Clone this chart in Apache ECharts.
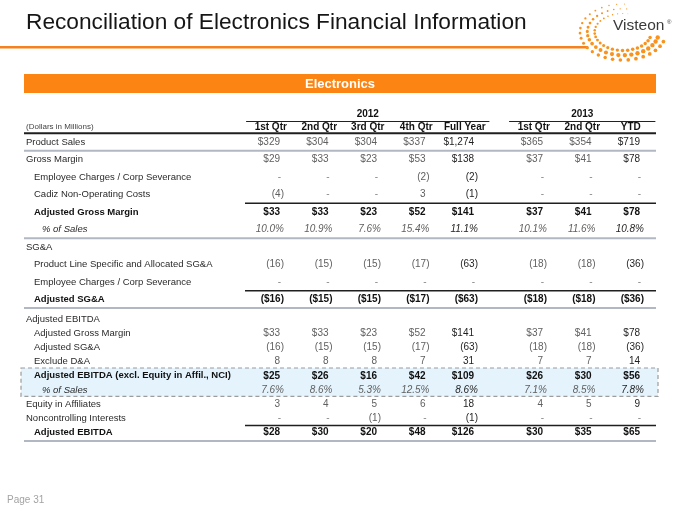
<!DOCTYPE html>
<html>
<head>
<meta charset="utf-8">
<script src="https://cdn.jsdelivr.net/npm/echarts@6/dist/echarts.min.js"></script>
<style>html,body{margin:0;padding:0;background:#fff}#c{width:680px;height:510px}</style>
</head>
<body>
<div id="c"></div>
<script>
// ---------- DATA ----------
const columns2012 = ['1st Qtr', '2nd Qtr', '3rd Qtr', '4th Qtr', 'Full Year'];
const columns2013 = ['1st Qtr', '2nd Qtr', 'YTD'];
const yearLabels2012 = ['', '', '2012', '', ''];
const yearLabels2013 = ['', '2013', ''];
const unitsNote = '(Dollars in Millions)';

// values: Q1'12, Q2'12, Q3'12, Q4'12, FY'12, Q1'13, Q2'13, YTD'13  (null = blank, 0 = "-")
const productSales     = [329, 304, 304, 337, 1274, 365, 354, 719];
const grossMargin      = [29, 33, 23, 53, 138, 37, 41, 78];
const empChargesGM     = [0, 0, 0, -2, -2, 0, 0, 0];
const cadizCosts       = [-4, 0, 0, 3, -1, 0, 0, 0];
const adjGrossMargin   = [33, 33, 23, 52, 141, 37, 41, 78];
const grossMarginPct   = [10.0, 10.9, 7.6, 15.4, 11.1, 10.1, 11.6, 10.8];
const productLineSGA   = [-16, -15, -15, -17, -63, -18, -18, -36];
const empChargesSGA    = [0, 0, 0, 0, 0, 0, 0, 0];
const adjSGA           = [-16, -15, -15, -17, -63, -18, -18, -36];
const ebitdaGrossMargin= [33, 33, 23, 52, 141, 37, 41, 78];
const ebitdaSGA        = [-16, -15, -15, -17, -63, -18, -18, -36];
const excludeDA        = [8, 8, 8, 7, 31, 7, 7, 14];
const adjEbitdaExcl    = [25, 26, 16, 42, 109, 26, 30, 56];
const ebitdaPct        = [7.6, 8.6, 5.3, 12.5, 8.6, 7.1, 8.5, 7.8];
const equityAffiliates = [3, 4, 5, 6, 18, 4, 5, 9];
const noncontrolling   = [0, 0, -1, 0, -1, 0, 0, 0];
const adjEbitda        = [28, 30, 20, 48, 126, 30, 35, 65];
const blankRow         = [null, null, null, null, null, null, null, null];

// [label, values, format, style, indent]
const topRows = [
  ['Product Sales', productSales, '$', 'n', 0],
  ['Gross Margin', grossMargin, '$', 'n', 0],
  ['Employee Charges / Corp Severance', empChargesGM, 'n', 'n', 1],
  ['Cadiz Non-Operating Costs', cadizCosts, 'n', 'n', 1],
  ['Adjusted Gross Margin', adjGrossMargin, '$', 'b', 1],
  ['% of Sales', grossMarginPct, '%', 'i', 2],
  ['SG&A', blankRow, 'n', 'n', 0],
  ['Product Line Specific and Allocated SG&A', productLineSGA, 'n', 'n', 1],
  ['Employee Charges / Corp Severance', empChargesSGA, 'n', 'n', 1],
  ['Adjusted SG&A', adjSGA, '$', 'b', 1]
];
const bottomRows = [
  ['Adjusted EBITDA', blankRow, 'n', 'n', 0],
  ['Adjusted Gross Margin', ebitdaGrossMargin, '$', 'n', 1],
  ['Adjusted SG&A', ebitdaSGA, 'n', 'n', 1],
  ['Exclude D&A', excludeDA, 'n', 'n', 1],
  ['Adjusted EBITDA (excl. Equity in Affil., NCI)', adjEbitdaExcl, '$', 'b', 1],
  ['% of Sales', ebitdaPct, '%', 'i', 2],
  ['Equity in Affiliates', equityAffiliates, 'n', 'n', 0],
  ['Noncontrolling Interests', noncontrolling, 'n', 'n', 0],
  ['Adjusted EBITDA', adjEbitda, '$', 'b', 1]
];

// ---------- LAYOUT ----------
const FONT = 'Liberation Sans, Arial, Helvetica, sans-serif';
const TABLE_L = 24, TABLE_W = 632;
const G2012_L = 246.5, G2012_W = 242.5;
const G2013_L = 509.5, G2013_W = 145.5;
const TOP_FIRST = 142, TOP_STEP = 17.5;
const BOT_FIRST = 319, BOT_STEP = 14.2;
const INDENTS = [2, 10, 18];
const NUM_START = 221;

function fmtVal(v, f) {
  if (v === null) return '';
  if (v === 0) return '-';
  if (f === '%') return v.toFixed(1) + '%';
  const a = Math.abs(v).toLocaleString('en-US');
  const s = (f === '$' ? '$' : '') + a;
  return v < 0 ? '(' + s + ')' : s;
}

function sectionGrid(first, step, n) {
  return { top: first - step / 2, height: step * n };
}
const topG = sectionGrid(TOP_FIRST, TOP_STEP, topRows.length);
const botG = sectionGrid(BOT_FIRST, BOT_STEP, bottomRows.length);

const grids = [
  { left: TABLE_L, width: TABLE_W, top: topG.top, height: topG.height },
  { left: G2012_L, width: G2012_W, top: topG.top, height: topG.height },
  { left: G2013_L, width: G2013_W, top: topG.top, height: topG.height },
  { left: TABLE_L, width: TABLE_W, top: botG.top, height: botG.height },
  { left: G2012_L, width: G2012_W, top: botG.top, height: botG.height },
  { left: G2013_L, width: G2013_W, top: botG.top, height: botG.height }
];

const hdrLabel = { margin: 1, fontFamily: FONT, fontSize: 10, fontWeight: 'bold', color: '#111', interval: 0 };
const hidden = { show: false };
const xAxes = [
  { gridIndex: 0, type: 'value', min: 0, max: TABLE_W, show: false },
  { gridIndex: 1, type: 'category', data: columns2012, position: 'top', axisLine: hidden, axisTick: hidden, axisLabel: hdrLabel, splitLine: hidden },
  { gridIndex: 1, type: 'category', data: yearLabels2012, position: 'top', offset: 12,
    axisLine: { show: true, lineStyle: { color: '#222', width: 1 } }, axisTick: hidden, axisLabel: Object.assign({}, hdrLabel, { margin: 2 }) },
  { gridIndex: 2, type: 'category', data: columns2013, position: 'top', axisLine: hidden, axisTick: hidden, axisLabel: hdrLabel },
  { gridIndex: 2, type: 'category', data: yearLabels2013, position: 'top', offset: 12,
    axisLine: { show: true, lineStyle: { color: '#222', width: 1 } }, axisTick: hidden, axisLabel: Object.assign({}, hdrLabel, { margin: 2 }) },
  { gridIndex: 3, type: 'value', min: 0, max: TABLE_W, show: false },
  { gridIndex: 4, type: 'category', data: columns2012, show: false },
  { gridIndex: 5, type: 'category', data: columns2013, show: false }
];
const yAxes = [0, 1, 2, 3, 4, 5].map(i => ({
  gridIndex: i, type: 'value', inverse: true, min: -0.5,
  max: (i < 3 ? topRows.length : bottomRows.length) - 0.5, show: false
}));

// ---------- SERIES BUILDERS ----------
function labelSeries(rows, xi, yi, extra) {
  const items = rows.map((r, i) => ({ text: r[0], style: r[3], indent: INDENTS[r[4]], row: i }));
  if (extra) items.push(extra);
  return {
    type: 'custom', xAxisIndex: xi, yAxisIndex: yi, clip: false, z: 5,
    data: items.map(it => [it.indent, it.row]),
    renderItem: function (params, api) {
      const it = items[params.dataIndex];
      const p = api.coord([api.value(0), api.value(1)]);
      return {
        type: 'text', x: p[0], y: p[1],
        style: {
          text: it.text, fill: it.color || (it.style === 'b' ? '#111' : '#2a2a2a'),
          font: (it.style === 'i' ? 'italic ' : '') + (it.style === 'b' ? 'bold ' : '') + (it.size || 9.5) + 'px ' + FONT,
          textAlign: 'left', textVerticalAlign: 'middle'
        }
      };
    }
  };
}

function valueSeries(rows, xi, yi, colOffset, nCols) {
  const cells = [];
  rows.forEach((r, ri) => {
    for (let c = 0; c < nCols; c++) {
      const v = r[1][c + colOffset];
      if (v === null) continue;
      cells.push({ col: c, row: ri, text: fmtVal(v, r[2]), v: v, style: r[3], total: c === nCols - 1 });
    }
  });
  return {
    type: 'custom', xAxisIndex: xi, yAxisIndex: yi, clip: false, z: 5,
    data: cells.map(c => [c.col, c.row]),
    renderItem: function (params, api) {
      const c = cells[params.dataIndex];
      const p = api.coord([api.value(0), api.value(1)]);
      const bw = api.size([1, 0])[0];
      let pad = 15;
      if (c.text === '-') pad = 14;
      else if (c.v < 0 || c.text.indexOf('%') >= 0) pad = 11;
      let color = c.total ? '#1e1e1e' : '#606060';
      if (c.style === 'b') color = '#111';
      if (c.text === '-') color = '#8a8a8a';
      return {
        type: 'text', x: p[0] + bw / 2 - pad, y: p[1],
        style: {
          text: c.text, fill: color,
          font: (c.style === 'i' ? 'italic ' : '') + (c.style === 'b' ? 'bold ' : '') + '10px ' + FONT,
          textAlign: 'right', textVerticalAlign: 'middle'
        }
      };
    }
  };
}

// line specs: [rowPos, x0, x1, kind]
const LINE_STYLES = {
  thick: { stroke: '#1f1f1f', lineWidth: 2 },
  gray: { stroke: '#b2b8c1', lineWidth: 2 },
  black: { stroke: '#1f1f1f', lineWidth: 1.5 }
};
function lineSeries(specs, xi, yi) {
  return {
    type: 'custom', xAxisIndex: xi, yAxisIndex: yi, clip: false, z: 2,
    data: specs.map(s => [s[1], s[0]]),
    renderItem: function (params, api) {
      const s = specs[params.dataIndex];
      const a = api.coord([s[1], s[0]]);
      const b = api.coord([s[2], s[0]]);
      if (s[3] === 'box') {
        const b2 = api.coord([s[2], s[4]]);
        return {
          type: 'rect', shape: { x: a[0], y: a[1], width: b2[0] - a[0], height: b2[1] - a[1] },
          style: { fill: '#e4f3fc', stroke: '#9c9c9c', lineWidth: 1.2, lineDash: [4, 3] }
        };
      }
      return {
        type: 'line', shape: { x1: a[0], y1: a[1], x2: b[0], y2: b[1] },
        style: LINE_STYLES[s[3]]
      };
    }
  };
}

const topLines = [
  [-0.5, 0, TABLE_W, 'thick'],
  [0.5, 0, TABLE_W, 'gray'],
  [3.5, NUM_START, TABLE_W, 'black'],
  [5.5, 0, TABLE_W, 'gray'],
  [8.5, NUM_START, TABLE_W, 'black']
];
const bottomLines = [
  [3.45, -3, TABLE_W + 2, 'box', 5.45],
  [-0.78, 0, TABLE_W, 'gray'],
  [7.5, NUM_START, TABLE_W, 'black'],
  [8.6, 0, TABLE_W, 'gray']
];

// ---------- LOGO DOTS (decoration) ----------
const logo = [];
const ringScale = [0.66, 0.83, 1.0];
const ringSize = [0.8, 1.0, 0.85];
ringScale.forEach((s, k) => {
  for (let a = 80 + k * 4; a <= 348; a += 10.5) {
    const t = (a - 80) / (348 - 80);
    const r = (0.5 + 1.7 * Math.sin(Math.min(1, t * 1.2) * Math.PI / 2)) * ringSize[k];
    const rad = a * Math.PI / 180;
    logo.push({
      type: 'circle',
      shape: { cx: 623 + 43 * s * Math.cos(rad), cy: 32 - 28 * s * Math.sin(rad), r: r },
      style: { fill: '#f7931e' }
    });
  }
});

const option = {
  animation: false,
  backgroundColor: '#fff',
  grid: grids,
  xAxis: xAxes,
  yAxis: yAxes,
  graphic: [
    { type: 'text', x: 26, y: 23, style: { text: 'Reconciliation of Electronics Financial Information', font: '22.7px ' + FONT, fill: '#161616', textVerticalAlign: 'middle' } },
    { type: 'rect', shape: { x: 0, y: 46, width: 588, height: 2.5 }, style: { fill: '#f5821f' } },
    { type: 'rect', shape: { x: TABLE_L, y: 74, width: TABLE_W, height: 19 }, style: { fill: '#fb8412' } },
    { type: 'text', x: 340, y: 84, style: { text: 'Electronics', font: 'bold 13px ' + FONT, fill: '#fff', textAlign: 'center', textVerticalAlign: 'middle' } },
    { type: 'text', x: 613, y: 26, style: { text: 'Visteon', font: '15.5px ' + FONT, fill: '#3a3a3a', textVerticalAlign: 'middle' } },
    { type: 'text', x: 667, y: 22, style: { text: '®', font: '6px ' + FONT, fill: '#3a3a3a', textVerticalAlign: 'middle' } },
    { type: 'text', x: 7, y: 500, style: { text: 'Page 31', font: '10px ' + FONT, fill: '#a3a3a3', textVerticalAlign: 'middle' } }
  ].concat(logo),
  series: [
    lineSeries(topLines, 0, 0),
    lineSeries(bottomLines, 5, 3),
    labelSeries(topRows, 0, 0, { text: unitsNote, style: 'n', indent: 2, row: -0.86, size: 8, color: '#444' }),
    labelSeries(bottomRows, 5, 3),
    valueSeries(topRows, 1, 1, 0, 5),
    valueSeries(topRows, 3, 2, 5, 3),
    valueSeries(bottomRows, 6, 4, 0, 5),
    valueSeries(bottomRows, 7, 5, 5, 3)
  ]
};

const chart = echarts.init(document.getElementById('c'), null, { renderer: 'canvas' });
chart.setOption(option);
</script>
</body>
</html>
